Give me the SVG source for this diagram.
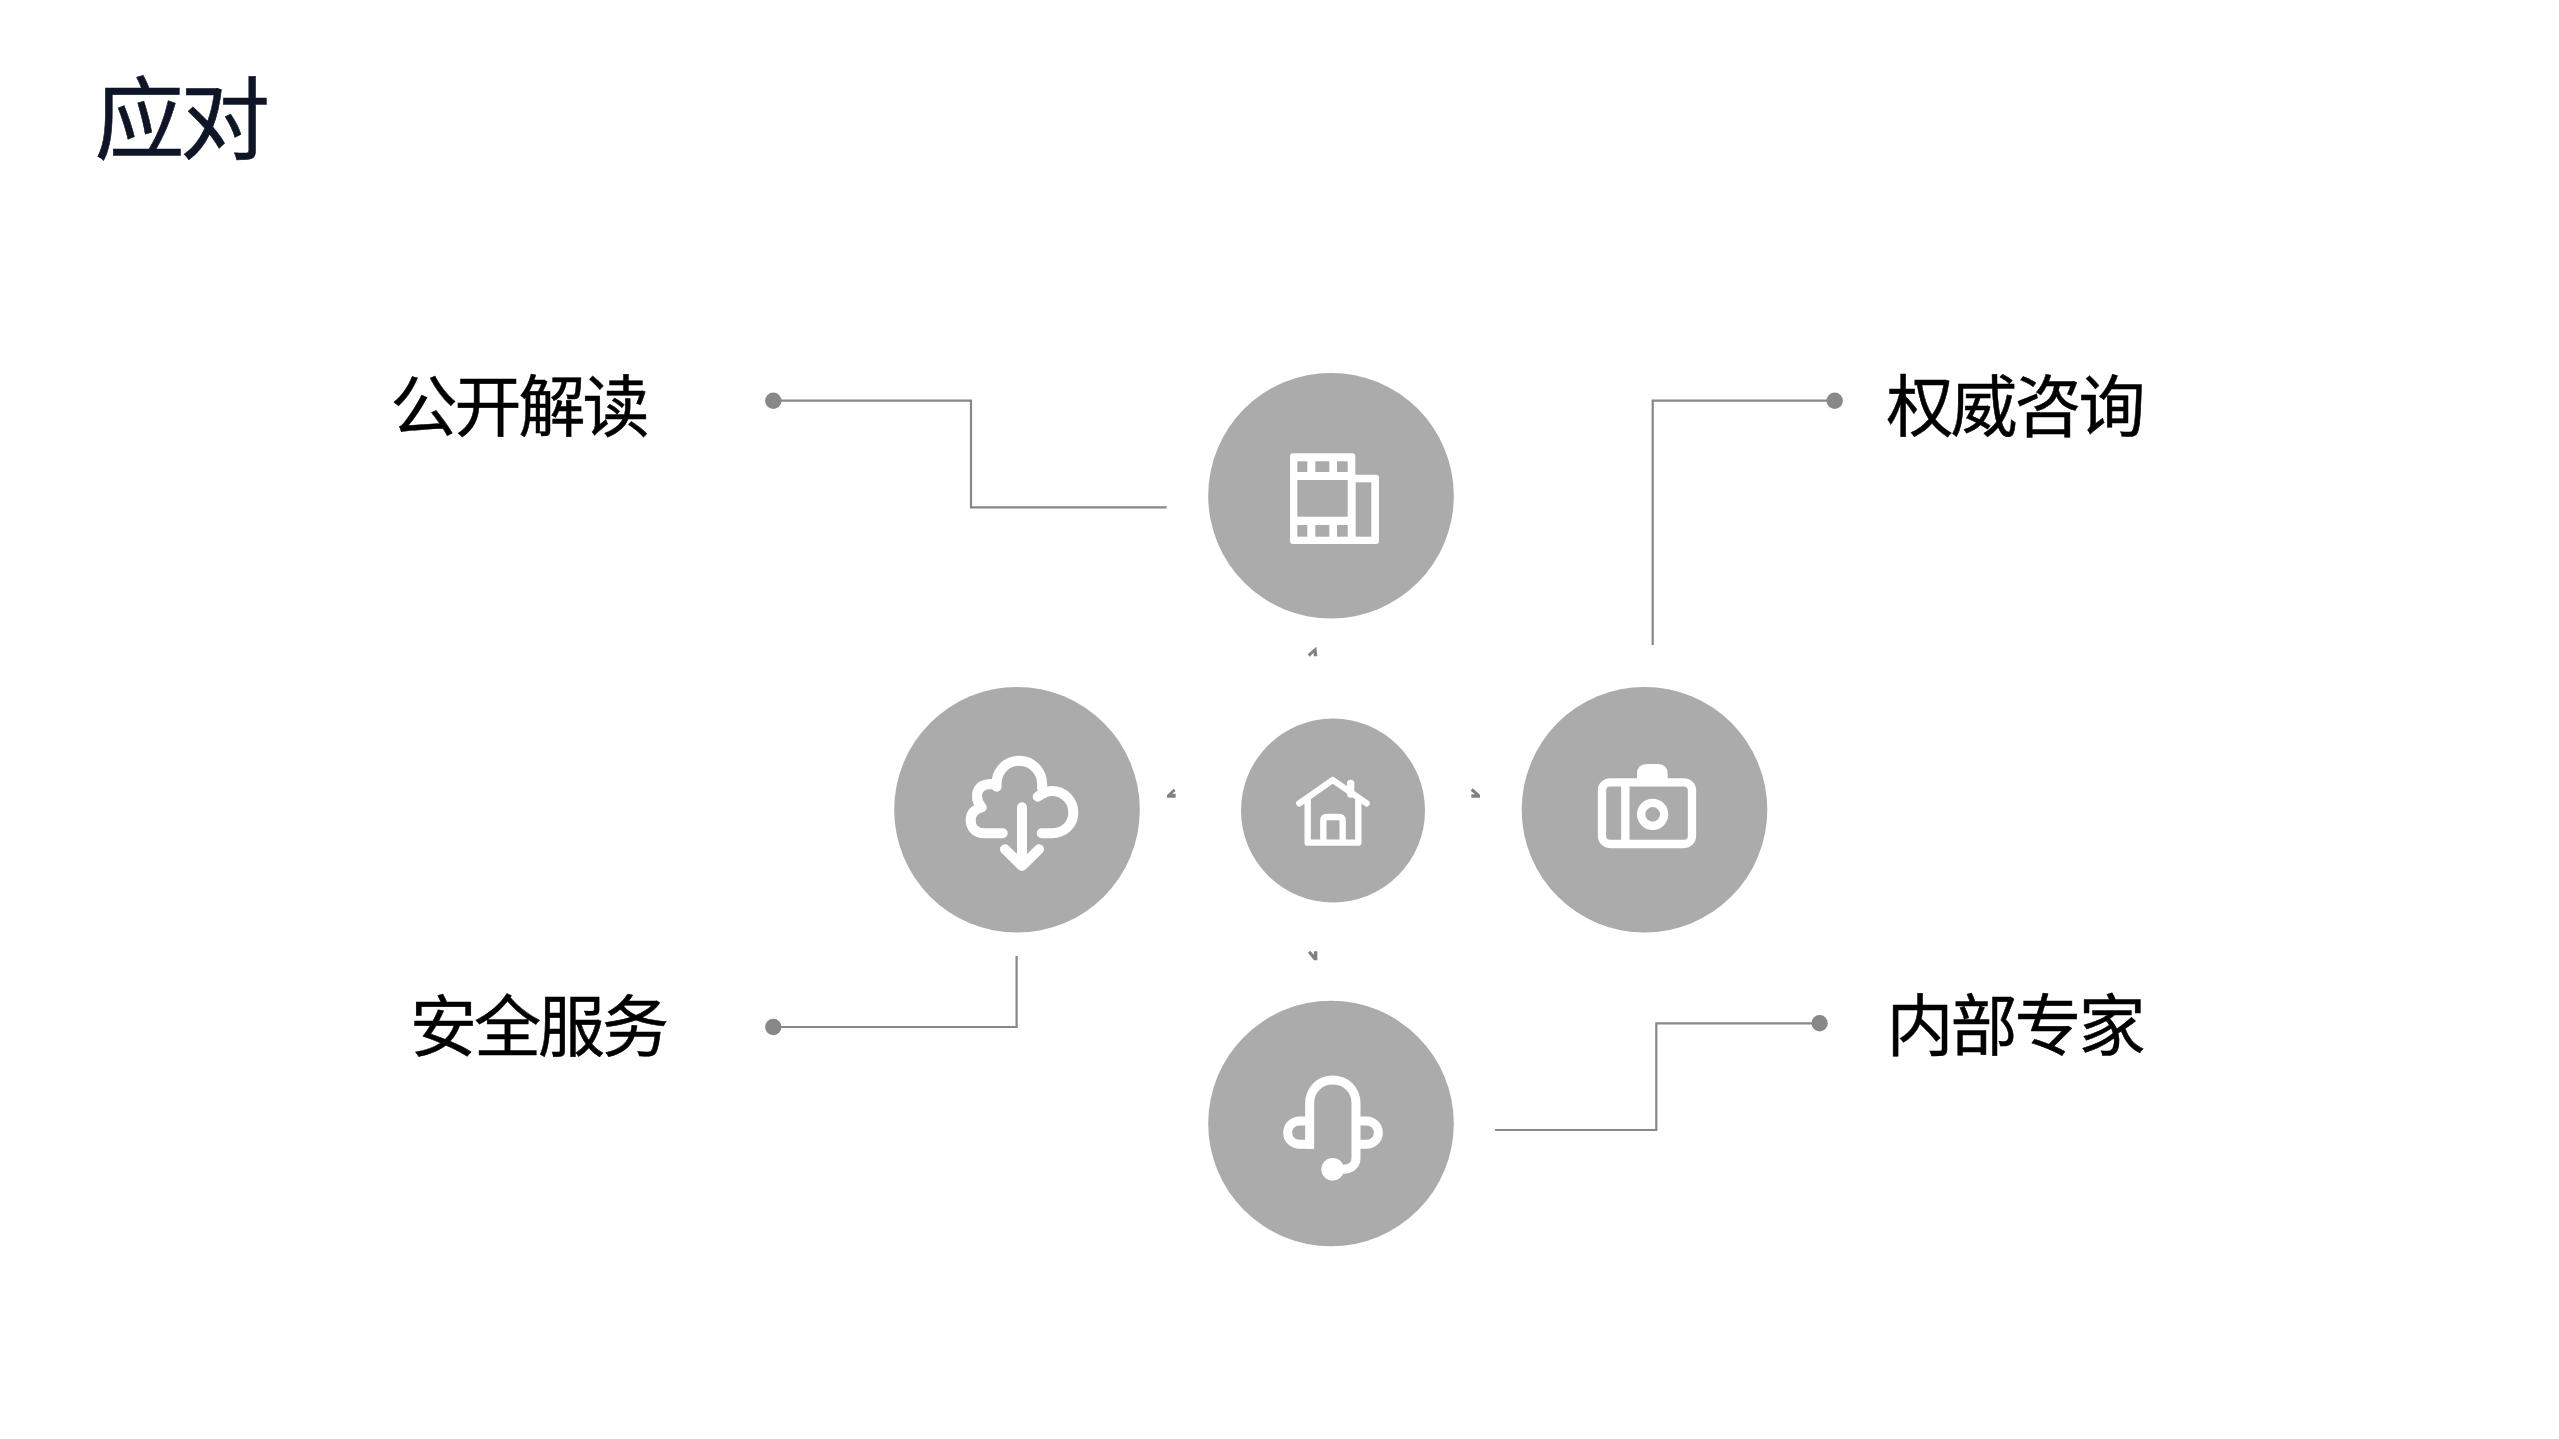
<svg xmlns="http://www.w3.org/2000/svg" width="2559" height="1439" viewBox="0 0 2559 1439">
<style>
text{font-family:"Noto Sans CJK SC","Noto Sans",sans-serif}
.t{font-size:90px;letter-spacing:-4.5px;fill:#0d1526;stroke:#0d1526;stroke-width:.6}
.l{font-size:67px;letter-spacing:-3px;fill:#000;stroke:#000;stroke-width:.5}
.c{fill:#ababab}
.i{fill:none;stroke:#fff;stroke-linecap:round;stroke-linejoin:round}
.w{fill:#fff}
.h{fill:#ababab}
.ln{fill:none;stroke:#888;stroke-width:2.2}
.d{fill:#888}
.a{fill:#808080}
</style>
<rect width="2559" height="1439" fill="#fff"/>
<text id="title" class="t" x="94.5" y="152">应对</text>
<g id="connectors">
<path class="ln" d="M773 400.7H971V507.3H1166.7"/><circle class="d" cx="773.3" cy="400.7" r="8.2"/>
<path class="ln" d="M1652.7 645V400.7H1834.7"/><circle class="d" cx="1834.7" cy="400.7" r="8.2"/>
<path class="ln" d="M773 1027H1016.6V956"/><circle class="d" cx="773.3" cy="1027" r="8.2"/>
<path class="ln" d="M1495 1130H1656.3V1023.3H1819.6"/><circle class="d" cx="1819.6" cy="1023.3" r="8.2"/>
<g id="arrowheads" transform="translate(1140 630) scale(.33333)">
<polygon class="a" points="529,50 503,73 509,80 521,68 521,79 532,79"/>
<polygon class="a" points="101,476 107,483 96,491 107,491 107,503 81,503 81,495"/>
<polygon class="a" points="998,475 1020,494 1020,503 994,503 994,493 1005,493 992,482"/>
<polygon class="a" points="504,968 510,962 522,974 522,964 532,964 532,991 522,991"/>
</g>
</g>
<g id="node-film">
<circle class="c" cx="1331" cy="495.7" r="122.8"/>
<path class="w" d="M1293 453.3H1352.3a3 3 0 0 1 3 3V474.7H1376a3 3 0 0 1 3 3V541a3 3 0 0 1-3 3H1293a3 3 0 0 1-3-3V456.3a3 3 0 0 1 3-3Z"/>
<g class="h">
<rect x="1297.3" y="461.3" width="10" height="10.7"/>
<rect x="1315.3" y="461.3" width="14" height="10.7"/>
<rect x="1337" y="461.3" width="10.7" height="10.7"/>
<rect x="1297.3" y="480" width="50.4" height="36.7"/>
<rect x="1297.3" y="525" width="10" height="11.7"/>
<rect x="1315.3" y="525" width="14" height="11.7"/>
<rect x="1337" y="525" width="10.7" height="11.7"/>
<rect x="1355.7" y="482.3" width="15.6" height="54.4"/>
</g>
</g>
<g id="node-cloud">
<circle class="c" cx="1017" cy="809.8" r="122.8"/>
<g class="i" stroke-width="10" transform="translate(880 670)">
<path d="M122.7 163.3H104C95 163.3 90.7 156.7 90.7 150C90.7 143.3 95 139.3 101.7 137.3C95 130 94 115 110 114C112 114 115 115 116.7 116.7C115 103.3 125 90.7 139 90.7C153.3 90.7 163.7 103 162 118"/>
<path d="M157.7 126.7C163.3 122.7 166.7 121 171.7 121C185 121 193.3 131.7 193.3 142.7C193.3 155 183.3 163.3 171.7 163.3H161.7"/>
<path d="M142 137.3V195M125 179.3L142 196L159 179.3"/>
</g>
</g>
<g id="node-home">
<circle class="c" cx="1333" cy="810.5" r="92"/>
<g class="i" transform="translate(1140 630) scale(.33333)" style="stroke-width:19">
<path d="M478 520L578 450L680 520"/>
<path d="M503 505V638H655V505"/>
<path d="M550 630V572Q550 561 561 561H597Q608 561 608 572V630"/>
<path d="M632 460V492" style="stroke-width:22"/>
</g>
</g>
<g id="node-camera">
<circle class="c" cx="1644.5" cy="809.7" r="122.8"/>
<g transform="translate(1510 670) scale(.33333)">
<path class="w" d="M381 335V312Q381 282 411 282H443Q473 282 473 312V335Z"/>
<rect x="276" y="337" width="270" height="185" rx="24" fill="#ababab" stroke="#fff" stroke-width="25"/>
<path d="M346 337V522" stroke="#fff" stroke-width="25"/>
<circle cx="428" cy="433" r="34.5" fill="none" stroke="#fff" stroke-width="25"/>
</g>
</g>
<g id="node-headset">
<circle class="c" cx="1331" cy="1123.5" r="122.8"/>
<g transform="translate(1180 990) scale(.33333)" fill="none" stroke="#fff" stroke-width="27">
<path d="M389 476V340C389 298 420 270 458 270C497 270 528 298 528 340V505C528 525 512 538 490 538H458"/>
<path d="M389 393H358A35 35 0 0 0 358 463H402"/>
<path d="M528 393H560A35 35 0 0 1 560 463H528"/>
<circle class="w" cx="458" cy="538" r="34" stroke="none"/>
</g>
</g>
<g id="label-1"><text class="l" x="390.5" y="431">公开解读</text></g>
<g id="label-2"><text class="l" x="1886.5" y="431">权威咨询</text></g>
<g id="label-3"><text class="l" x="410" y="1051">安全服务</text></g>
<g id="label-4"><text class="l" x="1886.5" y="1050">内部专家</text></g>
</svg>
